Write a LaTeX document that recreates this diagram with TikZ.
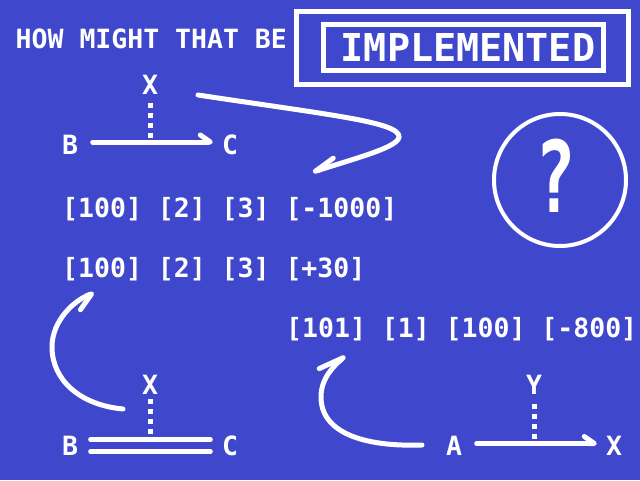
\documentclass[tikz,border=0pt]{standalone}
\usepackage{fontspec}
\newfontfamily\pix{DejaVu Sans Mono}
\usetikzlibrary{arrows.meta}
\definecolor{bg}{RGB}{63,72,204}
\begin{document}
\begin{tikzpicture}[x=1pt,y=-1pt,
  txt/.style={text=white,inner sep=0pt,font=\pix\bfseries\fontsize{26.5}{26.5}\selectfont},
  big/.style={text=white,inner sep=0pt,font=\pix\bfseries\fontsize{38.4}{38.4}\selectfont},
  bar/.style={draw=white,line width=5pt,line cap=round},
  thin/.style={draw=white,line width=4.5pt,line cap=round},
  dots/.style={draw=white,line width=5pt,dash pattern=on 5pt off 5pt},
  tipS/.style={-{Straight Barb[#1,round,length=10pt,width=14pt]}},
  frame/.style={draw=white,rectangle,inner sep=0pt}]
\useasboundingbox (0,0) rectangle (640,480);
\fill[bg] (0,0) rectangle (640,480);

% title
\node[txt,anchor=base west] (title) at (15.5,48) {HOW MIGHT THAT BE};
\node[frame,line width=5pt,minimum width=332pt,minimum height=73.3pt] (outer) at (462.5,48.3) {};
\node[frame,line width=4.7pt,minimum width=280pt,minimum height=46pt] (inner) at (463.5,47.3) {};
\node[big] (impl) at (468,47.5) {IMPLEMENTED};

% question circle
\node[draw=white,circle,line width=4pt,minimum size=132pt,inner sep=0pt] (circ) at (560,180) {};
\node[text=white,inner sep=0pt,font=\pix\bfseries\fontsize{99}{99}\selectfont] (q) at (556,176) {\scalebox{0.68}[1]{?}};

% top diagram
\node[txt] (X1) at (150,85) {X};
\node[txt] (B1) at (70,145) {B};
\node[txt] (C1) at (230,145) {C};
\coordinate (j1) at (150,141);
\draw[dots,shorten <=8pt] (X1.south) -- (j1);
\draw[bar,tipS=left,shorten <=14.5pt,shorten >=9pt] ([yshift=3pt]B1.east) -- ([yshift=3pt]C1.west);

% curved arrow top
\coordinate (a1s) at (198,95);
\coordinate (a1e) at (313,172);
\draw[bar,-{Straight Barb[right,round,length=21pt,width=14pt]}] (a1s) .. controls (330,115) and (400,122) .. (399,137)
  .. controls (398,147) and (360,157) .. (a1e);

% rows
\node[txt,anchor=base west] (r1) at (62,217) {[100] [2] [3] [-1000]};
\node[txt,anchor=base west] (r2) at (62,277) {[100] [2] [3] [+30]};
\node[txt,anchor=base west] (r3) at (286,337) {[101] [1] [100] [-800]};

% bottom left
\node[txt] (X2) at (150,385) {X};
\node[txt] (B2) at (70,445.5) {B};
\node[txt] (C2) at (230,445.5) {C};
\coordinate (j2) at (150,438);
\draw[dots,shorten <=4.5pt] (X2.south) -- (j2);
\draw[thin,shorten <=12.25pt,shorten >=11.25pt] ([yshift=6pt]B2.east) -- ([yshift=6pt]C2.west);
\draw[thin,shorten <=12.25pt,shorten >=11.25pt] ([yshift=-6pt]B2.east) -- ([yshift=-6pt]C2.west);
\coordinate (a2s) at (123,409);
\coordinate (a2e) at (94,293);
\draw[bar,-{Straight Barb[right,round,length=16pt,width=22pt]}] (a2s) .. controls (80,405) and (52,380) .. (52,347)
  .. controls (52,320) and (75,300) .. (a2e);

% bottom right
\node[txt] (Y3) at (534,385) {Y};
\node[txt] (A3) at (454,445.5) {A};
\node[txt] (X3) at (614,445.5) {X};
\coordinate (j3) at (534,441);
\draw[dots,shorten <=9.5pt] (Y3.south) -- (j3);
\draw[bar,tipS=left,shorten <=14.5pt,shorten >=9pt] ([yshift=2pt]A3.east) -- ([yshift=2pt]X3.west);
\coordinate (a3s) at (422,445);
\coordinate (a3e) at (345,356);
\draw[bar,-{Straight Barb[left,round,length=25pt,width=16pt]}] (a3s) .. controls (362,447) and (321,432) .. (321,397)
  .. controls (321,378) and (334,366) .. (a3e);
\end{tikzpicture}
\end{document}
